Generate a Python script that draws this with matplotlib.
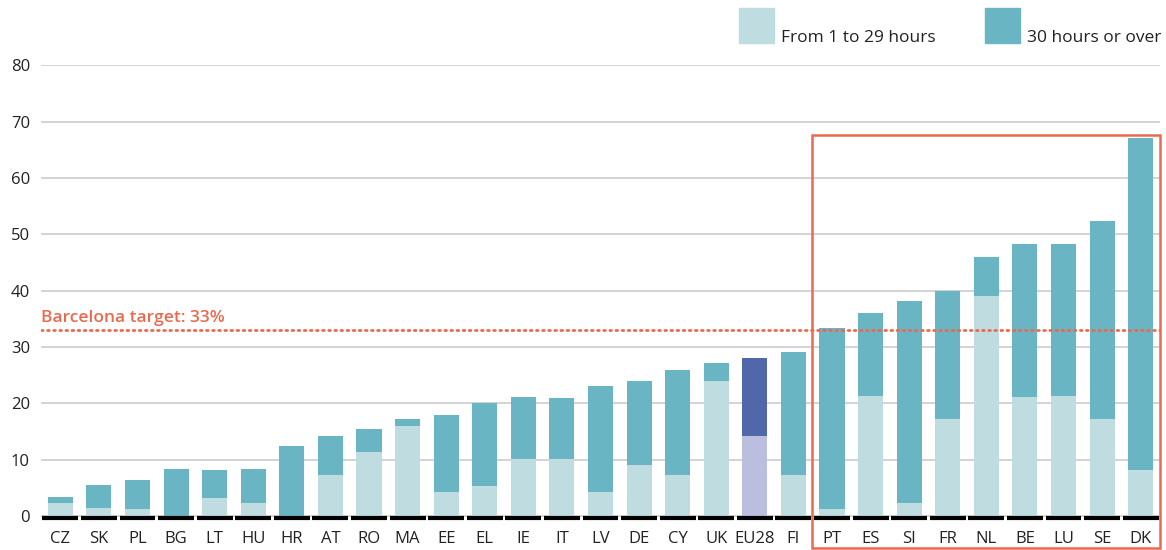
import numpy as np
import matplotlib.pyplot as plt
from matplotlib.patches import Rectangle

plt.rcParams["font.family"] = ["Open Sans", "DejaVu Sans"]

countries = ["CZ", "SK", "PL", "BG", "LT", "HU", "HR", "AT", "RO", "MA",
             "EE", "EL", "IE", "IT", "LV", "DE", "CY", "UK", "EU28", "FI",
             "PT", "ES", "SI", "FR", "NL", "BE", "LU", "SE", "DK"]
# share of children under 3 in formal childcare (%)
part_time = [2.3, 1.4, 1.2, 0.0, 3.2, 2.3, 0.0, 7.3, 11.4, 15.9,
             4.3, 5.3, 10.2, 10.2, 4.3, 9.1, 7.3, 23.9, 14.2, 7.3,
             1.2, 21.3, 2.3, 17.2, 39.1, 21.1, 21.3, 17.2, 8.2]
total = [3.4, 5.5, 6.4, 8.3, 8.2, 8.3, 12.4, 14.2, 15.5, 17.2,
         18.0, 20.0, 21.2, 21.0, 23.0, 23.9, 26.0, 27.1, 28.0, 29.1,
         33.3, 36.1, 38.1, 39.9, 46.0, 48.2, 48.2, 52.3, 67.1]
full_time = [t - p for t, p in zip(total, part_time)]
target = 33
highlight = ["PT", "ES", "SI", "FR", "NL", "BE", "LU", "SE", "DK"]

LIGHT = "#bfdce1"
TEAL = "#6ab5c4"
EU_LIGHT = "#bbbedf"
EU_DARK = "#5068aa"
RED = "#ea6a4f"

fig = plt.figure(figsize=(11.66, 5.5), dpi=100)
ax = fig.add_axes([41 / 1166, 1 - 521.6 / 550, 1119 / 1166, 456.3 / 550])

x = np.arange(len(countries))
light_cols = [EU_LIGHT if c == "EU28" else LIGHT for c in countries]
dark_cols = [EU_DARK if c == "EU28" else TEAL for c in countries]
ax.bar(x, part_time, width=0.65, color=light_cols, zorder=3)
ax.bar(x, full_time, bottom=part_time, width=0.65, color=dark_cols, zorder=3)

# black baseline segments under each bar
ax.hlines([-0.35] * len(x), x - 0.465, x + 0.465, color="black", lw=3, zorder=4)

# Barcelona target
ax.axhline(target, color=RED, lw=2, ls=(0, (0.6, 1.6)), dash_capstyle="round", zorder=5)
ax.text(-0.5, target + 0.8, "Barcelona target: 33%", color=RED, fontsize=12.5,
        fontweight="semibold", ha="left", va="bottom")

# box around countries meeting the target
first = countries.index(highlight[0])
ax.add_patch(Rectangle((first - 0.52, -5.7), len(highlight) + 0.01, 73.4,
                       fill=False, edgecolor=RED, lw=1.8, clip_on=False, zorder=6))

ax.set_xlim(-0.5, len(countries) - 0.5)
ax.set_ylim(-1, 80)
ax.set_yticks(np.arange(0, 81, 10))
ax.set_xticks(x)
ax.set_xticklabels(countries)
ax.yaxis.grid(True, color="#d0d0d0", lw=1.3, zorder=0)
ax.tick_params(axis="both", length=0, labelsize=12, colors="#222222")
ax.tick_params(axis="y", pad=8)
ax.tick_params(axis="x", pad=7)
for s in ax.spines.values():
    s.set_visible(False)

# legend drawn at top right
fig.patches.append(Rectangle((739 / 1166, 1 - 43 / 550), 35 / 1166, 35 / 550,
                             color=LIGHT, transform=fig.transFigure))
fig.text(781 / 1166, 1 - 42 / 550, "From 1 to 29 hours", fontsize=12.5,
         color="#222222", va="baseline")
fig.patches.append(Rectangle((985 / 1166, 1 - 43 / 550), 35 / 1166, 35 / 550,
                             color=TEAL, transform=fig.transFigure))
fig.text(1027 / 1166, 1 - 42 / 550, "30 hours or over", fontsize=12.5,
         color="#222222", va="baseline")

fig.savefig("out.png", dpi=100)
